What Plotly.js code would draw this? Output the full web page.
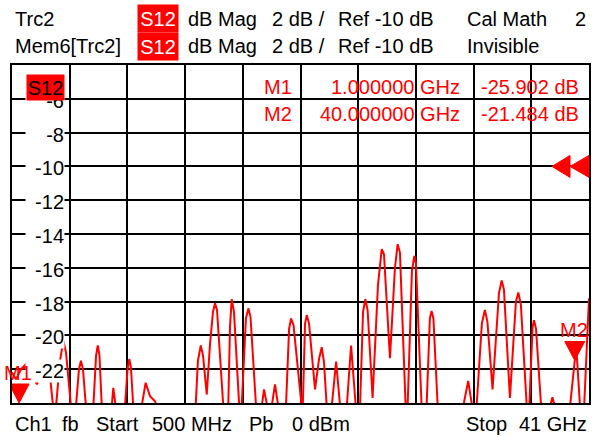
<!DOCTYPE html>
<html><head><meta charset="utf-8">
<script src="https://cdn.plot.ly/plotly-3.0.1.min.js"></script>
<style>html,body{margin:0;padding:0;background:#fff;}#chart{width:600px;height:437px;}</style>
</head><body><div id="chart"></div>
<script>
const freqGHz = [0.50,0.78,1.13,1.55,1.90,2.25,2.68,3.17,3.38,3.48,3.59,3.87,4.10,4.29,4.64,4.82,4.99,5.20,5.34,5.48,5.69,5.94,6.21,6.40,6.52,6.64,6.80,7.13,7.50,7.61,7.78,8.08,8.43,8.61,8.73,8.85,9.01,9.31,9.60,9.88,10.19,10.54,10.66,11.94,13.39,13.55,13.75,13.91,14.17,14.40,14.61,14.75,14.89,15.33,15.51,15.68,15.80,15.92,16.08,16.45,16.54,16.62,16.92,17.09,17.24,17.63,17.84,18.03,18.19,18.42,18.58,18.73,18.96,19.19,19.45,19.73,19.95,20.09,20.26,20.83,20.87,20.91,21.07,21.19,21.35,21.77,22.05,22.24,22.40,22.59,22.75,22.94,23.25,23.53,23.77,24.00,24.30,24.63,24.79,24.93,25.14,25.30,25.46,25.81,26.19,26.45,26.61,27.03,27.38,27.57,27.73,28.13,28.20,28.27,28.57,28.74,28.85,29.25,29.41,29.60,29.83,29.95,30.08,30.38,31.24,32.17,32.52,32.80,32.96,33.11,33.48,33.69,33.87,34.23,34.68,34.87,35.03,35.45,35.87,36.04,36.22,36.63,36.72,36.81,37.04,37.14,37.28,37.64,37.95,38.27,38.43,38.61,39.14,39.67,40.00,40.13,40.37,40.51,40.66,41.00];
const s12dB = [-22.2,-22.6,-22.0,-21.65,-22.3,-22.9,-21.85,-22.4,-24.2,-25.0,-24.2,-21.5,-20.3,-21.0,-24.2,-26.0,-24.2,-22.0,-21.5,-22.0,-24.2,-27.0,-24.2,-21.2,-20.6,-21.2,-24.2,-27.0,-24.2,-23.1,-24.2,-27.5,-24.2,-22.0,-21.4,-21.9,-24.2,-27.0,-24.2,-22.8,-23.6,-23.9,-24.2,-28.0,-24.2,-21.5,-20.6,-21.2,-23.5,-20.5,-18.6,-18.1,-18.5,-24.2,-26.5,-24.2,-19.5,-17.86,-18.6,-24.2,-25.5,-24.2,-19.0,-18.4,-18.9,-24.2,-26.5,-24.2,-23.2,-24.2,-25.5,-24.2,-22.9,-24.2,-27.0,-24.2,-19.6,-19.0,-19.4,-24.2,-24.5,-24.2,-19.3,-18.8,-19.3,-23.2,-21.4,-20.7,-21.6,-24.2,-25.5,-24.2,-21.55,-24.2,-25.5,-24.2,-20.6,-24.2,-25.0,-24.2,-18.6,-17.86,-18.5,-23.7,-17.0,-14.9,-15.2,-21.35,-16.0,-14.6,-15.1,-24.2,-24.5,-24.2,-16.2,-15.3,-15.7,-24.2,-26.0,-24.2,-19.0,-18.55,-19.0,-24.2,-28.0,-24.2,-22.7,-24.2,-25.0,-24.2,-19.3,-18.5,-19.2,-23.2,-17.5,-16.75,-17.3,-23.7,-18.0,-17.46,-18.2,-24.2,-24.6,-24.2,-19.5,-19.1,-19.6,-24.2,-26.0,-24.2,-23.66,-24.2,-28.0,-24.2,-21.48,-21.0,-24.2,-25.0,-24.2,-17.8];
const yTickVals = [-6,-8,-10,-12,-14,-16,-18,-20,-22];
const markerNames = ['M1','M2'];
const markerFreqGHz = [1.0, 40.0];
const markerDB = [-25.902, -21.484];
const startGHz = 0.5, stopGHz = 41;
const refLevelDB = -10, dBperDiv = 2;
const topDB = -4, bottomDB = -24;

// ---- layout helpers (plot area in pixels) ----
const L = 12, T = 65, W = 577, H = 338;
const px = x => (x - L) / W;
const py = y => 1 - (y - T) / H;
const FONT = 'Liberation Sans, Arial, sans-serif';
const RED = '#ff0000';

function txt(text, x, y, anchor, color, extra) {
  return Object.assign({text: text, xref: 'paper', yref: 'paper', x: px(x), y: py(y),
    xanchor: anchor, yanchor: 'middle', showarrow: false, borderpad: 0,
    font: {family: FONT, size: 20, color: color || '#000'}}, extra || {});
}

const ann = [];
// header
ann.push(txt('Trc2', 14, 19, 'left'));
ann.push(txt('Mem6[Trc2]', 14, 46, 'left'));
[[4, 31], [32, 59]].forEach(r => {
  ann.push({text: 'S12', xref: 'paper', yref: 'paper', x: px(137), y: py(r[0]), xanchor: 'left', yanchor: 'top',
    width: 40, height: r[1] - r[0], bgcolor: RED, borderpad: 0, showarrow: false, align: 'center', valign: 'middle',
    font: {family: FONT, size: 20, color: '#fff'}});
});
[19, 46].forEach(y => {
  ann.push(txt('dB Mag', 187, y, 'left'));
  ann.push(txt('2 dB /', 271, y, 'left'));
  ann.push(txt('Ref -10 dB', 337, y, 'left'));
});
ann.push(txt('Cal Math', 466, 19, 'left'));
ann.push(txt('2', 587, 19, 'right'));
ann.push(txt('Invisible', 466, 46, 'left'));

// y tick labels (white boxes inside the grid)
yTickVals.forEach(v => {
  ann.push({text: String(v), xref: 'paper', yref: 'y', x: px(65), y: v, xanchor: 'right', yanchor: 'middle',
    yshift: -2, width: 38, height: 22, align: 'right', valign: 'middle', bgcolor: '#fff', borderpad: 0, showarrow: false,
    font: {family: FONT, size: 20, color: '#000'}});
});
// trace label box
ann.push({text: 'S12', xref: 'paper', yref: 'paper', x: px(26), y: py(74), xanchor: 'left', yanchor: 'top',
  width: 37, height: 25, bgcolor: RED, borderpad: 0, showarrow: false, align: 'center', valign: 'middle',
  font: {family: FONT, size: 20, color: '#000'}});

// marker readout table
markerNames.forEach((m, i) => {
  const y = 87 + i * 27;
  ann.push(txt(m, 293, y, 'right', RED));
  ann.push(txt(markerFreqGHz[i].toFixed(6) + ' GHz', 461, y, 'right', RED));
  ann.push(txt(markerDB[i].toFixed(3) + ' dB', 580, y, 'right', RED));
});

// marker labels on the trace
const shapes = [];
markerNames.forEach((m, i) => {
  const onScale = markerDB[i] >= bottomDB;
  ann.push({text: m, xref: 'x', yref: onScale ? 'y' : 'paper', x: markerFreqGHz[i], y: onScale ? markerDB[i] : 0,
    xanchor: 'center', yanchor: 'middle', yshift: 30, xshift: -1, showarrow: false,
    font: {family: FONT, size: 20, color: RED}});
  shapes.push({type: 'path', xref: 'x', yref: onScale ? 'y' : 'paper', xsizemode: 'pixel', ysizemode: 'pixel',
    xanchor: markerFreqGHz[i], yanchor: onScale ? markerDB[i] : 0,
    path: 'M -10 19 L 10 19 L 0 0 Z', fillcolor: RED, line: {color: RED, width: 1}, layer: 'above'});
});
// reference level arrows
shapes.push({type: 'path', xref: 'paper', yref: 'y', xsizemode: 'pixel', ysizemode: 'pixel', xanchor: 1, yanchor: refLevelDB,
  path: 'M -37 0 L -19 11 L -19 -11 Z M -19 0 L 0 11 L 0 -11 Z', fillcolor: RED, line: {color: RED, width: 1}, layer: 'above'});

// bottom status line
ann.push(txt('Ch1', 14, 424, 'left'));
ann.push(txt('fb', 61, 424, 'left'));
ann.push(txt('Start', 95, 424, 'left'));
ann.push(txt('500 MHz', 151, 424, 'left'));
ann.push(txt('Pb', 248, 424, 'left'));
ann.push(txt('0 dBm', 291, 424, 'left'));
ann.push(txt('Stop', 465, 424, 'left'));
ann.push(txt('41 GHz', 588, 424, 'right'));

const trace = {x: freqGHz, y: s12dB, type: 'scatter', mode: 'lines',
  line: {color: RED, width: 2}, hoverinfo: 'skip'};

const axisCommon = {showgrid: true, gridcolor: '#000', gridwidth: 2, zeroline: false, showticklabels: false,
  ticks: '', showline: true, linecolor: '#000', linewidth: 2, mirror: true, fixedrange: true};

const layout = {
  width: 600, height: 437, margin: {l: L, r: 600 - L - W, t: T, b: 437 - T - H},
  paper_bgcolor: '#fff', plot_bgcolor: '#fff', showlegend: false,
  font: {family: FONT, size: 20, color: '#000'},
  xaxis: Object.assign({range: [startGHz, stopGHz], tick0: startGHz, dtick: (stopGHz - startGHz) / 10}, axisCommon),
  yaxis: Object.assign({range: [bottomDB, topDB], tick0: 0, dtick: dBperDiv}, axisCommon),
  annotations: ann, shapes: shapes
};
Plotly.newPlot('chart', [trace], layout, {displayModeBar: false, staticPlot: true});
</script></body></html>
